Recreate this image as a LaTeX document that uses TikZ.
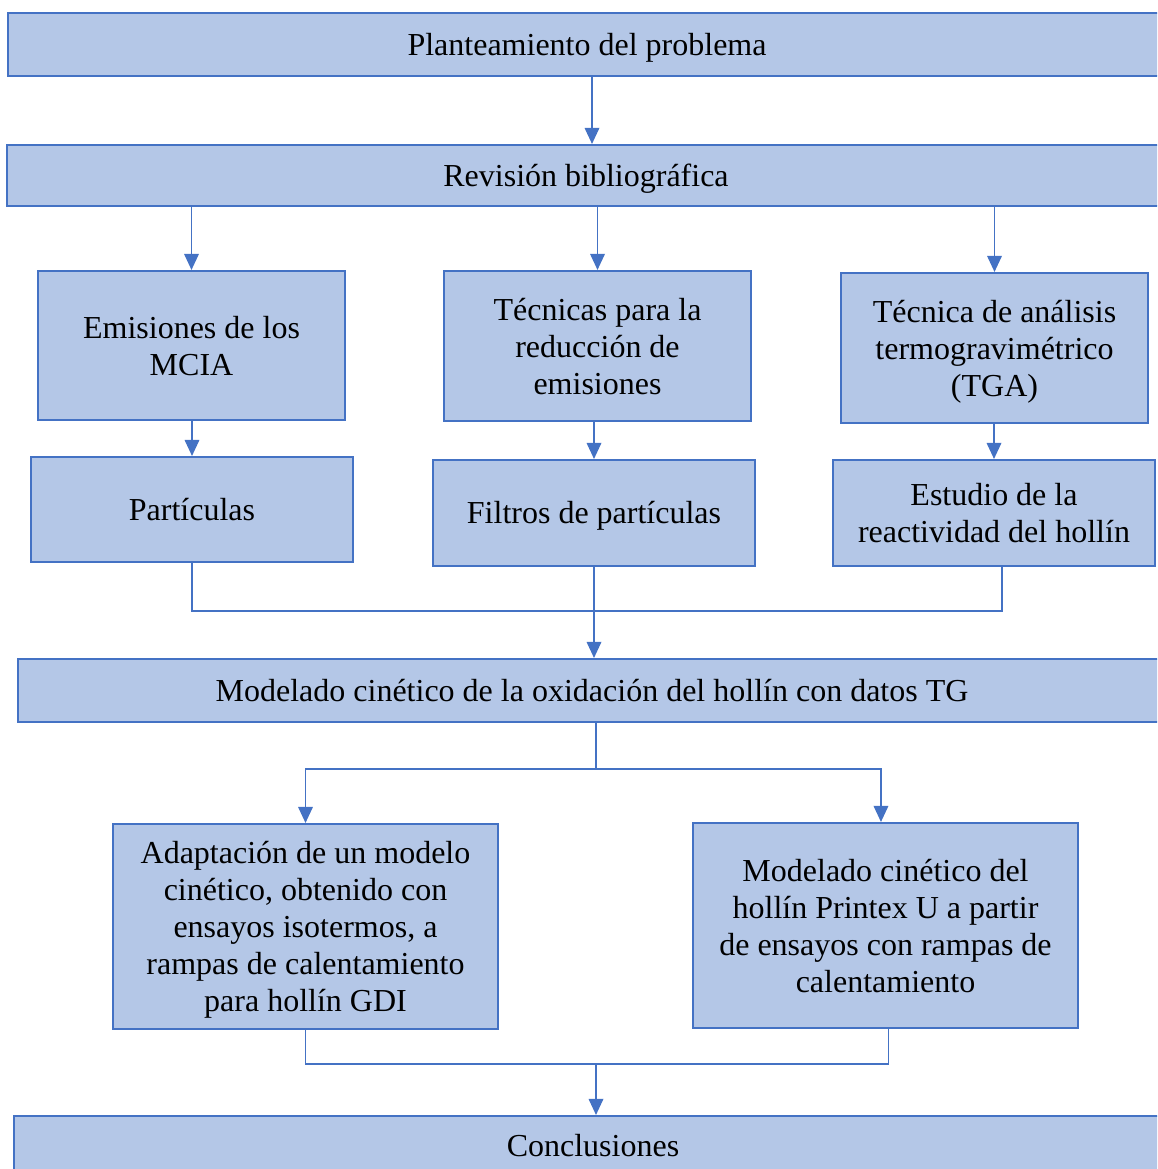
\documentclass[tikz,border=0pt]{standalone}
\usepackage{fontspec}
\setmainfont{Liberation Serif}
\usetikzlibrary{arrows.meta,positioning,calc}
\definecolor{boxfill}{HTML}{B4C7E7}
\definecolor{boxline}{HTML}{4472C4}

\begin{document}
\begin{tikzpicture}[x=0.75pt,y=-0.75pt,
    box/.style={draw=boxline,fill=boxfill,line width=1.6pt,align=center,inner sep=0pt,
      font=\fontsize{24}{27.75}\selectfont},
    one/.style={box,execute at begin node={\rule{0pt}{23pt}},
      execute at end node={\rule[-7pt]{0pt}{0pt}}},
    multi/.style={box,text depth=-3pt},
    sz/.style 2 args={minimum width=#1*0.75pt,minimum height=#2*0.75pt},
    link/.style={draw=boxline,line width=0.9pt},
    arr/.style={link,-{Triangle[length=12pt,width=11pt]}}]
      \useasboundingbox (0,0) rectangle (1157,1169);
      \clip (0,0) rectangle (1157,1169);
      % Main chain
      \node[one,sz={1158}{63}] (plant) at (587,44.5) {Planteamiento del problema};
      \node[one,sz={1158}{61}] (rev) at (586,175.5) {Revisión bibliográfica};
      % Three branches
      \node[multi,sz={307}{149}] (emis) at (191.5,345.5) {Emisiones de los\\MCIA};
      \node[multi,sz={307}{150}] (tec) at (597.5,346) {Técnicas para la\\reducción de\\emisiones};
      \node[multi,sz={307}{150}] (tga) at (994.5,348) {Técnica de análisis\\termogravimétrico\\(TGA)};
      \node[one,sz={322}{105}] (part) at (192,509.5) {Partículas};
      \node[one,sz={322}{106}] (filt) at (594,513) {Filtros de partículas};
      \node[multi,sz={322}{106}] (est) at (994,513) {Estudio de la\\reactividad del hollín};
      % Kinetic modelling
      \node[one,sz={1148}{63}] (mod) at (592,690.5) {Modelado cinético de la oxidación del hollín con datos TG};
      \node[multi,sz={385}{205}] (adap) at (305.5,926.5) {Adaptación de un modelo\\cinético, obtenido con\\ensayos isotermos, a\\rampas de calentamiento\\para hollín GDI};
      \node[multi,sz={385}{205}] (prin) at (885.5,925.5) {Modelado cinético del\\hollín Printex U a partir\\de ensayos con rampas de\\calentamiento};
      \node[one,sz={1158}{60}] (concl) at (593,1146) {Conclusiones};
      % Connectors
      \coordinate (top) at (592,76);
      \coordinate (join1) at (594,611);
      \coordinate (split) at (596,769);
      \coordinate (join2) at (596,1064);
      \draw[arr] (top |- plant.south) -- (top |- rev.north);
      \foreach \n in {emis,tec,tga}
        \draw[arr] (rev.south -| \n.north) -- (\n.north);
      \draw[arr] (emis.south -| part.north) -- (part.north);
      \draw[arr] (tec.south -| filt.north) -- (filt.north);
      \draw[arr] (tga.south -| est.north) -- (est.north);
      \draw[link] (part.south) |- (join1) -| ([xshift=6pt]est.south);
      \draw[arr] (filt.south) -- (filt.south |- mod.north);
      \draw[link] (split |- mod.south) -- (split);
      \draw[arr] (split) -| (adap.north);
      \draw[arr] (split) -| ([xshift=-3.4pt]prin.north);
      \draw[link] (adap.south) |- (join2) -| ([xshift=2.5pt]prin.south);
      \draw[arr] (join2) -- (join2 |- concl.north);
    \end{tikzpicture}
\end{document}
